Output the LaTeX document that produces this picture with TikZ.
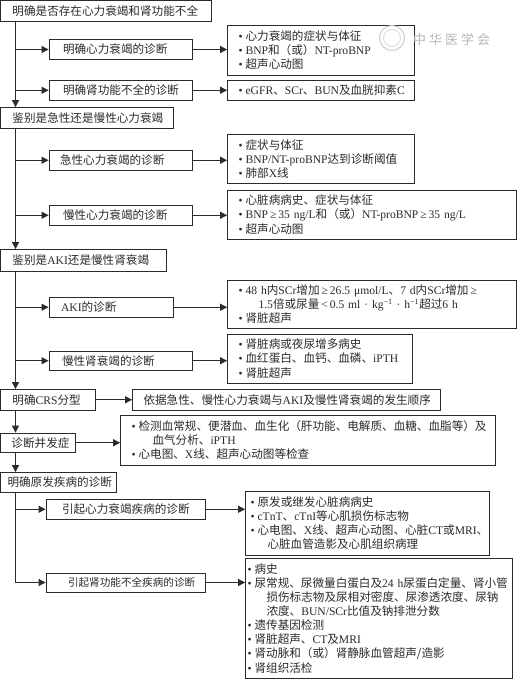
\documentclass[tikz,border=0pt]{standalone}
\usepackage{fontspec}
\usetikzlibrary{arrows.meta,calc}
\setmainfont{Noto Sans CJK SC}
\newfontfamily\latinf{Liberation Serif}
\newcommand\Lt[1]{{\latinf #1}}
\newcommand\bl{\Lt{•}\kern3pt\relax}
\newcommand\hg[1]{\hspace*{#1pt}}
\definecolor{ink}{gray}{0.17}
\tikzset{
  x=1pt,y=-1pt,
  boxstyle/.style={draw=ink,line width=0.8pt,fill=white,text=ink,inner ysep=0pt,
    font=\fontsize{11.6}{14.1}\selectfont,align=left},
  arrowstyle/.style={draw=ink,line width=0.8pt,-{Triangle[length=7pt,width=7pt]}}
}
% \Bx{inset}{name}{x1}{y1}{x2}{y2}{text}
\newcommand\Bx[7]{%
  \pgfmathsetmacro\bw{#5-#3}\pgfmathsetmacro\bh{#6-#4}%
  \pgfmathsetmacro\btw{\bw-2*#1}%
  \node[boxstyle,inner xsep=#1pt,text width=\btw pt,minimum height=\bh pt]
    (#2) at ({(#3+#5)/2},{(#4+#6)/2}) {#7};}
\begin{document}
\begin{tikzpicture}
\useasboundingbox (0,0) rectangle (517,680);
\fill[white] (0,0) rectangle (517,680);
\coordinate (trunk) at (15.5,0);
% level 1
\Bx{12}{a}{0.5}{0.5}{211}{21}{明确是否存在心力衰竭和肾功能不全}
\Bx{14}{a1}{49}{39.5}{192}{59.5}{明确心力衰竭的诊断}
\Bx{11}{a1r}{227.5}{25.5}{414}{75}{\bl 心力衰竭的症状与体征\\\bl\Lt{BNP}和（或）\Lt{NT-proBNP}\\\bl 超声心动图}
\Bx{14}{a2}{49}{80.5}{192}{100}{明确肾功能不全的诊断}
\Bx{11}{a2r}{227.5}{80.5}{414}{100}{\bl\Lt{eGFR}、\Lt{SCr}、\Lt{BUN}及血胱抑素\Lt{C}}
% level 2
\Bx{12}{b}{0.5}{107.5}{173}{128}{鉴别是急性还是慢性心力衰竭}
\Bx{11}{b1}{49}{150.5}{192}{170}{急性心力衰竭的诊断}
\Bx{11}{b1r}{227.5}{134}{414}{183.5}{\bl 症状与体征\\\bl\Lt{BNP/NT-proBNP}达到诊断阈值\\\bl 肺部\Lt{X}线}
\Bx{14}{b2}{49}{205.5}{192}{225}{慢性心力衰竭的诊断}
\Bx{11}{b2r}{227.5}{190}{516}{239}{\bl 心脏病病史、症状与体征\\\bl\Lt{BNP\,≥\,35~ng/L}和（或）\Lt{NT-proBNP\,≥\,35~ng/L}\\\bl 超声心动图}
% level 3
\Bx{12}{c}{0.5}{249.5}{166}{271}{鉴别是\Lt{AKI}还是慢性肾衰竭}
\Bx{12}{c1}{49}{297.5}{173}{317}{\Lt{AKI}的诊断}
\Bx{11}{c1r}{227.5}{280}{516}{328.5}{\bl\Lt{48~h}内\Lt{SCr}增加\Lt{\,≥\,26.5~μmol/L}、\Lt{7~d}内\Lt{SCr}增加\Lt{\,≥}\\\hg{20}\Lt{1.5}倍或尿量\Lt{\,<\,0.5~ml~·~kg\textsuperscript{−1}~·~h\textsuperscript{−1}}超过\Lt{6~h}\\\bl 肾脏超声}
\Bx{13}{c2}{49}{351}{192}{370.5}{慢性肾衰竭的诊断}
\Bx{11}{c2r}{227.5}{334}{412}{383}{\bl 肾脏病或夜尿增多病史\\\bl 血红蛋白、血钙、血磷、\Lt{iPTH}\\\bl 肾脏超声}
% level 4
\Bx{12}{d}{0.5}{389.5}{95}{410}{明确\Lt{CRS}分型}
\Bx{11}{dr}{132.5}{389.5}{440}{410}{依据急性、慢性心力衰竭与\Lt{AKI}及慢性肾衰竭的发生顺序}
% level 5
\Bx{11}{e}{0.5}{433}{75}{452.5}{诊断并发症}
\Bx{11}{er}{120.5}{415.5}{495}{465}{\bl 检测血常规、便潜血、血生化（肝功能、电解质、血糖、血脂等）及\\\hg{21}血气分析、\Lt{iPTH}\\\bl 心电图、\Lt{X}线、超声心动图等检查}
% level 6
\Bx{7}{f}{0.5}{472.5}{116}{492}{明确原发疾病的诊断}
\Bx{16}{f1}{46}{499.5}{205}{519}{引起心力衰竭疾病的诊断}
\Bx{5}{f1r}{245.5}{491.5}{489}{555}{\bl 原发或继发心脏病病史\\\bl\Lt{cTnT}、\Lt{cTnI}等心肌损伤标志物\\\bl 心电图、\Lt{X}线、超声心动图、心脏\Lt{CT}或\Lt{MRI}、\\\hg{17}心脏血管造影及心肌组织病理}
\Bx{22}{f2}{46}{573}{205}{592}{{\fontsize{10.6}{14}\selectfont 引起肾功能不全疾病的诊断}}
\Bx{2}{f2r}{245.5}{558.5}{512}{678}{\bl 病史\\\bl 尿常规、尿微量白蛋白及\Lt{24~h}尿蛋白定量、肾小管\\\hg{19}损伤标志物及尿相对密度、尿渗透浓度、尿钠\\\hg{19}浓度、\Lt{BUN/SCr}比值及钠排泄分数\\\bl 遗传基因检测\\\bl 肾脏超声、\Lt{CT}及\Lt{MRI}\\\bl 肾动脉和（或）肾静脉血管超声/造影\\\bl 肾组织活检}
% trunk connectors
\draw[arrowstyle] (trunk |- a.south) -- (trunk |- b.north);
\draw[arrowstyle] (trunk |- b.south) -- (trunk |- c.north);
\draw[arrowstyle] (trunk |- c.south) -- (trunk |- d.north);
\draw[arrowstyle] (trunk |- d.south) -- (trunk |- e.north);
\draw[arrowstyle] (trunk |- e.south) -- (trunk |- f.north);
\draw[arrowstyle] (trunk |- f.south) -- (trunk |- f2.west) -- (f2.west);
% branches
\foreach \m in {a1,a2,b1,b2,c1,c2,f1}{\draw[arrowstyle] (trunk |- \m.west) -- (\m.west);}
% to the detail boxes
\foreach \m/\r in {a1/a1r,a2/a2r,b1/b1r,b2/b2r,c1/c1r,c2/c2r,d/dr,e/er,f1/f1r,f2/f2r}{\draw[arrowstyle] (\m.east) -- (\m.east -| \r.west);}
% watermark
\node[circle,draw=black!20,line width=1pt,minimum size=25pt,inner sep=0pt,fill=white,fill opacity=0] (emblem) at (392,38) {};
\node[circle,draw=black!15,line width=0.8pt,minimum size=17pt,inner sep=0pt] (emblemin) at (392,38) {};
\node[text=black!28,font=\fontsize{13}{14}\selectfont,anchor=west,inner sep=0pt] (mark) at (413,40) {中\kern3pt 华\kern3pt 医\kern3pt 学\kern3pt 会};
\end{tikzpicture}
\end{document}
